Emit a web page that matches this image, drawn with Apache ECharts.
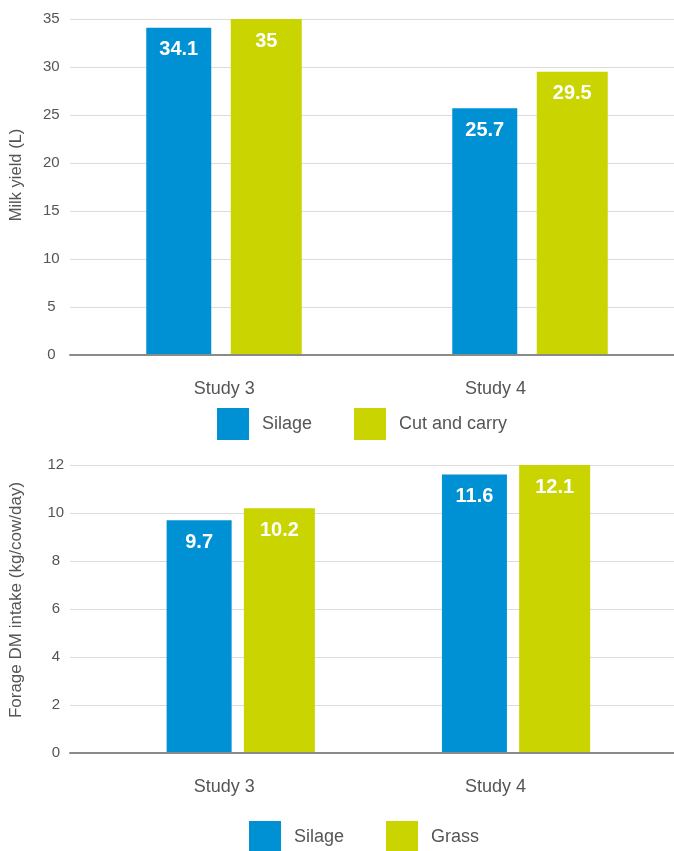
<!DOCTYPE html>
<html>
<head>
<meta charset="utf-8">
<title>Milk yield and forage intake</title>
<script src="https://cdn.jsdelivr.net/npm/echarts@6/dist/echarts.min.js"></script>
<style>
  html, body { margin: 0; padding: 0; background: #fff; }
  #chart { width: 674px; height: 851px; }
</style>
</head>
<body>
<div id="chart"></div>
<script>
// Categories shared by both panels
const categories = ['Study 3', 'Study 4'];

// Upper panel: milk yield (L)
const milkSilage = [34.1, 25.7];
const milkCutCarry = [35, 29.5];
const milkTicks = [0, 5, 10, 15, 20, 25, 30, 35];

// Lower panel: forage DM intake (kg/cow/day)
const intakeSilage = [9.7, 11.6];
const intakeGrass = [10.2, 12.1];
const intakeTicks = [0, 2, 4, 6, 8, 10, 12];

const BLUE = '#0090d4';
const GREEN = '#c9d400';
const FONT = '"Liberation Sans", Arial, Helvetica, sans-serif';
const TEXT = '#555';

function scaleOf(ticks) {
  return { min: ticks[0], max: ticks[ticks.length - 1], interval: ticks[1] - ticks[0] };
}

// Each panel uses three grids sharing the same vertical extent:
// frame (gridlines, value axis, baseline), bars, and category labels.
function panel(gTop, gHeight, ticks, yName, nameSize, namePad, tickMargin, barLeft, barSpan) {
  const s = scaleOf(ticks);
  const gridBase = { top: gTop, height: gHeight, outerBoundsMode: 'none', containLabel: false };
  const grids = [
    Object.assign({ left: 70, width: 604 }, gridBase),
    Object.assign({ left: barLeft, width: barSpan }, gridBase),
    Object.assign({ left: 88.75, width: 542.2 }, gridBase)
  ];
  const xAxes = [
    { type: 'category', data: categories, z: 10,
      axisLine: { show: true, lineStyle: { color: '#8a8a8a', width: 2 } },
      axisTick: { show: false }, axisLabel: { show: false }, splitLine: { show: false } },
    { type: 'category', data: categories, show: false },
    { type: 'category', data: categories,
      axisLine: { show: false }, axisTick: { show: false },
      axisLabel: { show: true, color: TEXT, fontSize: 18, fontFamily: FONT, margin: 25 } }
  ];
  const yAxes = [
    { type: 'value', min: s.min, max: s.max, interval: s.interval,
      name: yName, nameLocation: 'middle', nameGap: 45,
      nameTextStyle: { color: TEXT, fontSize: nameSize, fontFamily: FONT, padding: namePad },
      axisLine: { show: false }, axisTick: { show: false },
      axisLabel: { color: TEXT, fontSize: 15, fontFamily: FONT, align: 'center', margin: tickMargin },
      splitLine: { show: true, lineStyle: { color: '#dcdcdc', width: 1 } } },
    { type: 'value', min: s.min, max: s.max, interval: s.interval, show: false, splitLine: { show: false } },
    { type: 'value', min: s.min, max: s.max, interval: s.interval, show: false, splitLine: { show: false } }
  ];
  return { grids, xAxes, yAxes };
}

const upper = panel(19, 336, milkTicks, 'Milk yield (L)', 16.5, [0, 0, 0, 24], 18.7, 71, 612);
const lower = panel(465, 288, intakeTicks, 'Forage DM intake (kg/cow/day)', 17, [0, 0, 0, 18], 14.2, 103.1, 550.6);

const valueLabel = {
  show: true, position: 'insideTop', distance: 12,
  color: '#fff', fontSize: 20, fontWeight: 'bold', fontFamily: FONT
};

function bar(name, data, color, axisIndex, width, gap) {
  return {
    type: 'bar', name: name, data: data,
    xAxisIndex: axisIndex, yAxisIndex: axisIndex,
    barWidth: width, barGap: gap,
    itemStyle: { color: color },
    label: valueLabel,
    emphasis: { disabled: true }
  };
}

const legendBase = {
  orient: 'horizontal', padding: 0, icon: 'rect',
  itemWidth: 32, itemHeight: 32, itemGap: 42,
  selectedMode: false,
  textStyle: { color: TEXT, fontSize: 18, fontFamily: FONT, padding: [0, 0, 0, 8] }
};

const option = {
  animation: false,
  backgroundColor: '#fff',
  grid: upper.grids.concat(lower.grids),
  xAxis: upper.xAxes.map((a, i) => Object.assign({ gridIndex: i }, a))
    .concat(lower.xAxes.map((a, i) => Object.assign({ gridIndex: i + 3 }, a))),
  yAxis: upper.yAxes.map((a, i) => Object.assign({ gridIndex: i }, a))
    .concat(lower.yAxes.map((a, i) => Object.assign({ gridIndex: i + 3 }, a))),
  legend: [
    Object.assign({}, legendBase, { left: 217, top: 408, data: ['Silage', 'Cut and carry'] }),
    Object.assign({}, legendBase, { left: 249, top: 821, data: ['Silage', 'Grass'] })
  ],
  series: [
    bar('Silage', milkSilage, BLUE, 1, 65, '30%'),
    bar('Cut and carry', milkCutCarry, GREEN, 1, 71, '30%'),
    bar('Silage', intakeSilage, BLUE, 4, 65, '18.8%'),
    bar('Grass', intakeGrass, GREEN, 4, 71, '18.8%')
  ]
};

const chart = echarts.init(document.getElementById('chart'), null, { renderer: 'canvas' });
chart.setOption(option);
</script>
</body>
</html>
